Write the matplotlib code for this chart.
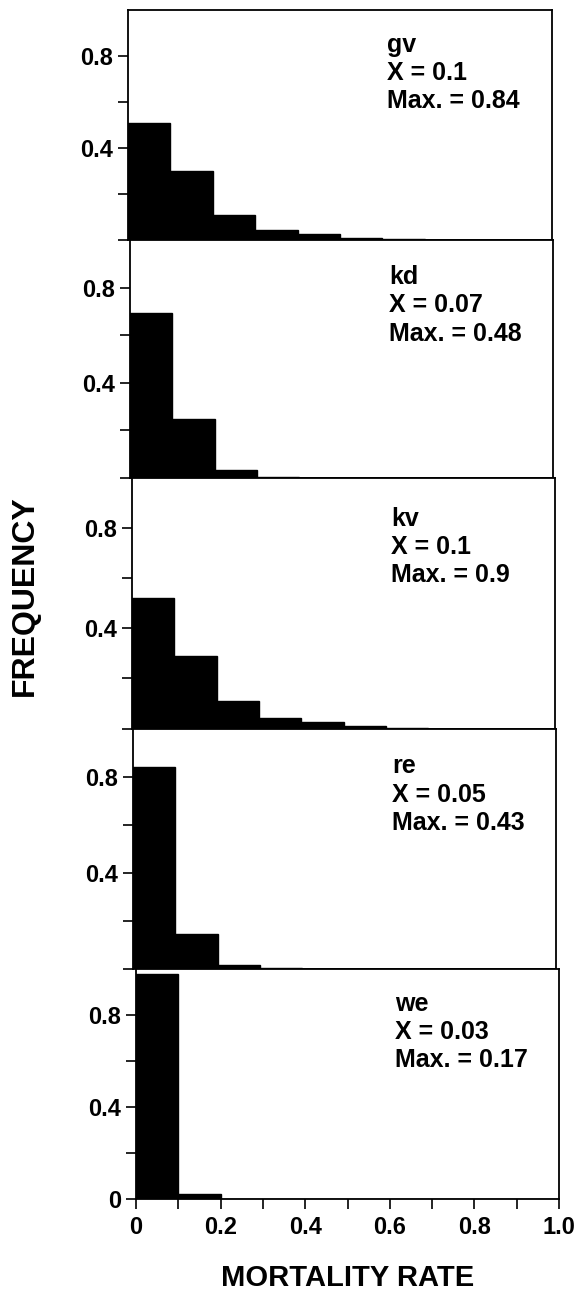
import numpy as np
import matplotlib.pyplot as plt

plt.rcParams['font.family'] = ['Liberation Sans', 'DejaVu Sans']
plt.rcParams['font.weight'] = 'bold'

# histogram bins of mortality rate (width 0.1)
bin_edges = [0.0, 0.1, 0.2, 0.3, 0.4, 0.5, 0.6, 0.7, 0.8, 0.9, 1.0]

sites = ['gv', 'kd', 'kv', 're', 'we']
means = ['0.1', '0.07', '0.1', '0.05', '0.03']
maxima = ['0.84', '0.48', '0.9', '0.43', '0.17']

freq_gv = [0.51, 0.30, 0.11, 0.045, 0.027, 0.007, 0.003, 0.0, 0.0, 0.0]
freq_kd = [0.695, 0.25, 0.035, 0.004, 0.0, 0.0, 0.0, 0.0, 0.0, 0.0]
freq_kv = [0.52, 0.29, 0.11, 0.042, 0.025, 0.01, 0.003, 0.0, 0.0, 0.0]
freq_re = [0.84, 0.142, 0.015, 0.002, 0.0, 0.0, 0.0, 0.0, 0.0, 0.0]
freq_we = [0.977, 0.019, 0.0, 0.0, 0.0, 0.0, 0.0, 0.0, 0.0, 0.0]
freqs = [freq_gv, freq_kd, freq_kv, freq_re, freq_we]

x_ticks = [0.0, 0.2, 0.4, 0.6, 0.8, 1.0]
x_ticklabels = ['0', '0.2', '0.4', '0.6', '0.8', '1.0']

W, H = 581, 1294
fig = plt.figure(figsize=(W / 100, H / 100), dpi=100)

# panel boxes in pixels: left, right, top, bottom (scan is slightly skewed)
boxes = [(128, 552, 10, 240),
         (130, 553, 240, 478),
         (132, 555, 478, 728.5),
         (133, 556, 728.5, 968.5),
         (136, 559, 968.5, 1198.7)]

left_edges = np.array(bin_edges[:-1])
for i, (l, r, t, b) in enumerate(boxes):
    ax = fig.add_axes([l / W, 1 - b / H, (r - l) / W, (b - t) / H])
    ax.bar(left_edges, freqs[i], width=0.1, align='edge', color='black',
           edgecolor='black', linewidth=1.0)
    ax.set_xlim(0, 1.0)
    ax.set_ylim(0, 1.0)
    for s in ax.spines.values():
        s.set_linewidth(1.3)
    ax.set_yticks([0.0, 0.2, 0.4, 0.6, 0.8])
    last = i == len(boxes) - 1
    ax.set_yticklabels(['0' if last else '', '', '0.4', '', '0.8'],
                       fontsize=17, fontweight='bold')
    ax.tick_params(axis='both', direction='out', length=7.5, width=1.2,
                   pad=3)
    if last:
        ax.set_xticks(np.arange(0, 1.01, 0.1), minor=True)
        ax.set_xticks(x_ticks)
        ax.set_xticklabels(x_ticklabels, fontsize=17, fontweight='bold')
        ax.tick_params(axis='x', which='both', direction='out',
                       length=7.5, width=1.2, pad=5)
    else:
        ax.set_xticks([])
    label = f'{sites[i]}\nX = {means[i]}\nMax. = {maxima[i]}'
    ax.text(0.612, 0.725, label, transform=ax.transAxes, fontsize=18,
            fontweight='bold', va='center', ha='left', linespacing=1.22)

fig.text(348 / W, 1 - 1278 / H, 'MORTALITY RATE', fontsize=21,
         fontweight='bold', ha='center', va='center')
fig.text(25 / W, 1 - 596 / H, 'FREQUENCY', fontsize=23,
         fontweight='bold', ha='center', va='center', rotation=90)

fig.savefig('out.png', dpi=100)
